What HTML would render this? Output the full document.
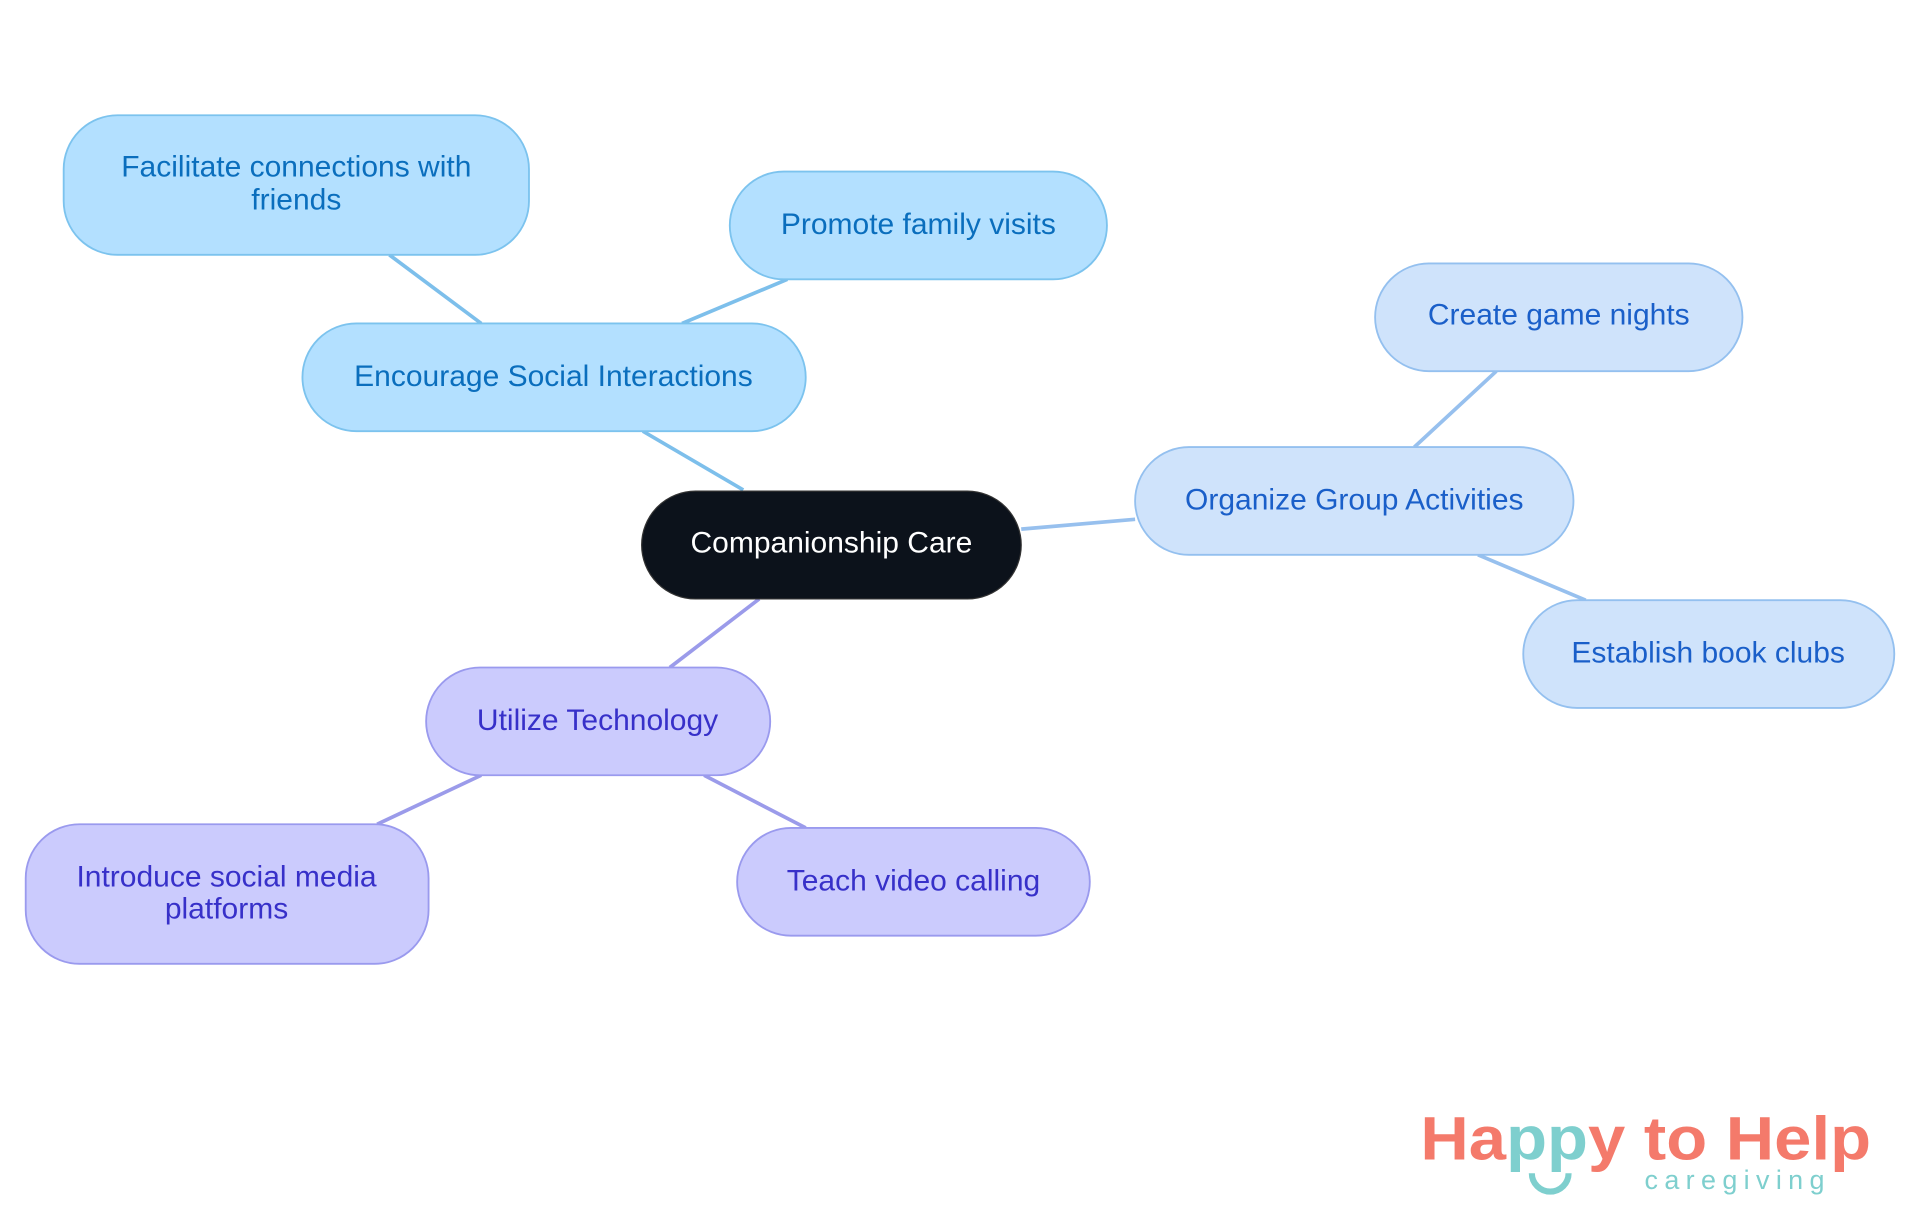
<!DOCTYPE html>
<html><head><meta charset="utf-8"><style>html,body{margin:0;padding:0;background:#fff}svg{display:block}</style></head><body>
<svg width="1920" height="1215" viewBox="0 0 1568 992" xmlns="http://www.w3.org/2000/svg" font-family="Liberation Sans, sans-serif">
<g stroke-width="3" fill="none">
<path d="M607 400L525 352M393 264L318 208M557 264L643 228" stroke="#7dbfeb"/>
<path d="M834 432L927 424M1155 365L1222 303M1207 453L1295 490" stroke="#97c0ee"/>
<path d="M620 489L547 545M393 633L308 673M575 633L658 676" stroke="#9b9bea"/>
</g>
<g font-size="24.5" text-anchor="middle">
<rect x="524" y="401" width="310" height="88" rx="44" fill="#0c121b" stroke="#333"/>
<text x="679" y="451" fill="#fff">Companionship Care</text>
<g fill="#b3e0ff" stroke="#7cc3ee" stroke-width="1.5">
<rect x="247" y="264" width="411" height="88" rx="44"/>
<rect x="52" y="94" width="380" height="114" rx="44"/>
<rect x="596" y="140" width="308" height="88" rx="44"/>
</g>
<g fill="#0a6ebd">
<text x="452" y="315">Encourage Social Interactions</text>
<text x="242" y="144">Facilitate connections with</text>
<text x="242" y="171">friends</text>
<text x="750" y="191">Promote family visits</text>
</g>
<g fill="#cfe3fb" stroke="#94c0ef" stroke-width="1.5">
<rect x="927" y="365" width="358" height="88" rx="44"/>
<rect x="1123" y="215" width="300" height="88" rx="44"/>
<rect x="1244" y="490" width="303" height="88" rx="44"/>
</g>
<g fill="#1a5fc9">
<text x="1106" y="416">Organize Group Activities</text>
<text x="1273" y="265">Create game nights</text>
<text x="1395" y="541">Establish book clubs</text>
</g>
<g fill="#cbcbfd" stroke="#9a9aee" stroke-width="1.5">
<rect x="348" y="545" width="281" height="88" rx="44"/>
<rect x="21" y="673" width="329" height="114" rx="44"/>
<rect x="602" y="676" width="288" height="88" rx="44"/>
</g>
<g fill="#3730c9">
<text x="488" y="596">Utilize Technology</text>
<text x="185" y="724">Introduce social media</text>
<text x="185" y="750">platforms</text>
<text x="746" y="727">Teach video calling</text>
</g>
</g>
<g font-weight="bold" font-size="50">
<text x="1160" y="947" fill="#f47a6b" textLength="368" lengthAdjust="spacingAndGlyphs">Ha<tspan fill="#7ecfce">pp</tspan>y to Help</text>
</g>
<path d="M1251 958a15 15 0 0 0 30 0" stroke="#7ecfce" stroke-width="5" fill="none"/>
<text x="1343" y="971" font-size="22" fill="#7ecfce" textLength="147" lengthAdjust="spacing">caregiving</text>
</svg>
</body></html>
